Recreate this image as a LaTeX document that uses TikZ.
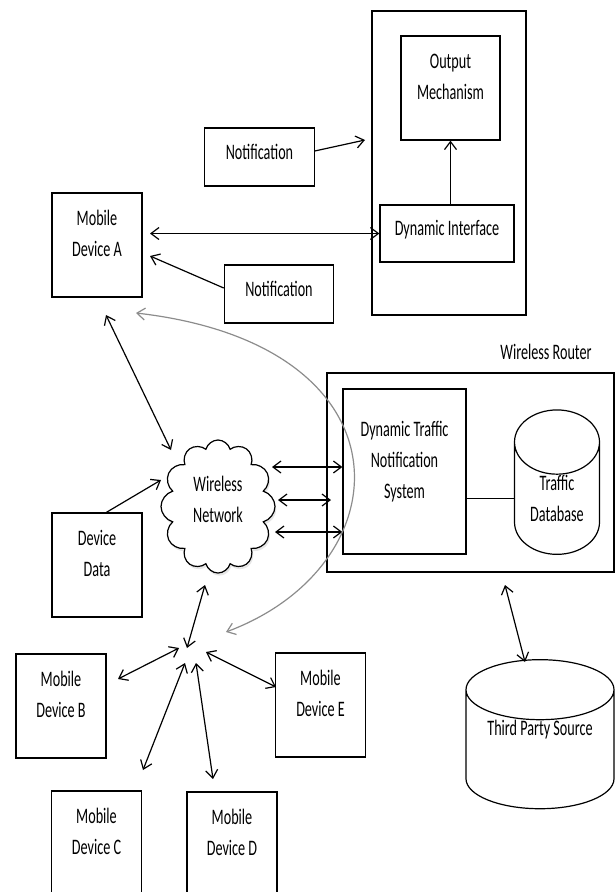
\documentclass[tikz,border=0pt]{standalone}
\usepackage{fontspec}
\setmainfont{Carlito}[FakeStretch=0.64]
\usetikzlibrary{positioning,arrows.meta,calc,shapes.geometric,shapes.symbols,shadows}

\begin{document}
\begin{tikzpicture}[x=0.75pt,y=-0.75pt,>={Straight Barb[length=6pt,width=9pt]},
    line width=0.9pt,font=\fontsize{16.6}{23.3}\selectfont,
    box/.style={draw,align=center,inner sep=0pt},
    devbox/.style={box,minimum width=67.5pt,minimum height=78pt},
    notebox/.style={box,minimum width=82pt,minimum height=43.5pt},
    store/.style={draw,cylinder,shape border rotate=90,align=center,inner sep=0pt}]
  \useasboundingbox (0,0) rectangle (616,892);

  % device side, top
  \node[box,minimum width=115.5pt,minimum height=228pt] (panel) at (449,163) {};
  \node[box,minimum width=74.25pt,minimum height=78pt] (om) at (450.5,88) {Output\\Mechanism\\[-6pt]};
  \node[box,minimum width=100.5pt,minimum height=42.75pt] (di) at (447,233.5) {Dynamic Interface\\[-15pt]};
  \node[notebox] (note1) at (259.5,157) {Notification\\[-15pt]};
  \node[notebox] (note2) at (279,294) {Notification\\[-15pt]};
  \node[devbox] (mda) at (97,245) {Mobile\\Device A\\[-6pt]};

  % network and router
  \node[draw,cloud,cloud puffs=12,cloud ignores aspect,fill=white,align=center,inner sep=0pt,
    minimum width=85.5pt,minimum height=99.75pt,
    drop shadow={opacity=.2,shadow xshift=1pt,shadow yshift=-2pt}] (net) at (218,506.5) {Wireless\\Network\\[-12pt]};
  \node[devbox] (dd) at (97,565) {Device\\Data\\[-6pt]};
  \node[box,minimum width=215.25pt,minimum height=149.25pt] (router) at (470.5,472.5) {};
  \node (routerlbl) at (546,352) {Wireless Router};
  \node[box,minimum width=92.25pt,minimum height=123.75pt] (dtns) at (404.5,471.5) {Dynamic Traffic\\Notification\\System\\[-6pt]};
  \node[store,minimum width=63.75pt,minimum height=96.75pt,aspect=1.2] (tdb) at (557,498.5) {Traffic\\Database\\[-22.5pt]};
  \node[store,minimum width=111pt,minimum height=95.25pt,aspect=0.57] (tps) at (540,749.5) {Third Party Source\\[9pt]};

  % other devices
  \node[devbox] (mdb) at (61,706) {Mobile\\Device B\\[-6pt]};
  \node[devbox] (mde) at (320.5,705) {Mobile\\Device E\\[-6pt]};
  \node[devbox] (mdc) at (96.5,843) {Mobile\\Device C\\[-6pt]};
  \node[devbox] (mdd) at (232,844) {Mobile\\Device D\\[-6pt]};

  % free ends
  \coordinate (panelin) at (365,140);
  \coordinate (mdaR) at (150,233.5);
  \coordinate (mdaRL) at (150,256);
  \coordinate (mdaS) at (106,315);
  \coordinate (netNW) at (171,450);
  \coordinate (netW) at (161,480);
  \coordinate (netE1) at (272,467);
  \coordinate (netE2) at (278,500);
  \coordinate (netE3) at (275,532);
  \coordinate (routerW) at (331,500);
  \coordinate (netS) at (205,585);
  \coordinate (hubN) at (187,648);
  \coordinate (hubB) at (179,648);
  \coordinate (mdbR) at (118,679);
  \coordinate (hubE) at (206,652);
  \coordinate (mdeW) at (276,687);
  \coordinate (hubC) at (185,663);
  \coordinate (mdcN) at (143,770);
  \coordinate (hubD) at (196,663);
  \coordinate (mddN) at (213,779);
  \coordinate (routerS) at (505,585);
  \coordinate (tpsN) at (525,662);
  \coordinate (loopA) at (136,313);
  \coordinate (loopB) at (226,632);

  \draw[->] (di.north -| om.south) -- (om.south);
  \draw[->] ([yshift=4.5pt]note1.east) -- (panelin);
  \draw[<->] (mdaR) -- (di.west);
  \draw[->] ([yshift=4.5pt]note2.west) -- (mdaRL);
  \draw[<->] (mdaS) -- (netNW);
  \draw[->] ([xshift=7pt]dd.north) -- (netW);
  \draw[<->] (netE1) -- (netE1 -| dtns.west);
  \draw[<->] (netE2) -- (routerW);
  \draw[<->] (netE3) -- (netE3 -| dtns.west);
  \draw (dtns.east |- tdb.180) -- (tdb.180);
  \draw[<->] (routerS) -- (tpsN);
  \draw[<->] (netS) -- (hubN);
  \draw[<->] (mdbR) -- (hubB);
  \draw[<->] (hubE) -- (mdeW);
  \draw[<->] (hubC) -- (mdcN);
  \draw[<->] (hubD) -- (mddN);
  \draw[<->,black!45] (loopB) .. controls (405,565) and (415,345) .. (loopA);
\end{tikzpicture}
\end{document}
